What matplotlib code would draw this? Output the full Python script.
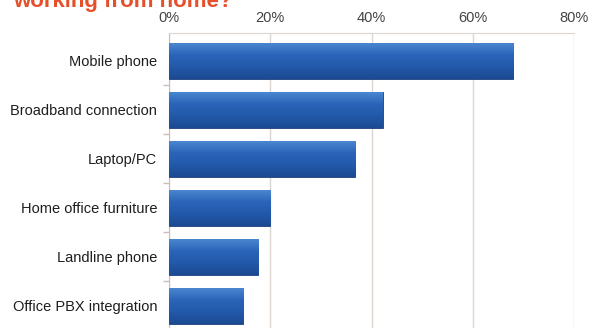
import matplotlib.pyplot as plt
import numpy as np
from matplotlib.colors import LinearSegmentedColormap

# survey answers, share of respondents (%)
items = ["Mobile phone", "Broadband connection", "Laptop/PC",
         "Home office furniture", "Landline phone", "Office PBX integration"]
shares = [68, 42.2, 36.8, 20, 17.6, 14.7]
ticks = [0, 20, 40, 60, 80]
tick_labels = ["0%", "20%", "40%", "60%", "80%"]

plt.rcParams['font.family'] = ['Liberation Sans', 'DejaVu Sans']

fig = plt.figure(figsize=(5.92, 3.28), dpi=100)
ax = fig.add_axes([169 / 592, 0.0, (574 - 169) / 592, 1 - 33 / 328])

pos = np.arange(len(items))
bars = ax.barh(pos, shares, height=0.73, color="#2a62b5",
               edgecolor="#1c3f7c", linewidth=0.6, zorder=3)

# vertical shading on each bar: light top, darker bottom
shade = LinearSegmentedColormap.from_list(
    "shade", ["#4a86d0", "#2a64b8", "#2359aa", "#1b4a92"])
grad = np.linspace(1, 0, 64).reshape(-1, 1)
for b in bars:
    x0, y0 = b.get_x(), b.get_y()
    w, h = b.get_width(), b.get_height()
    im = ax.imshow(grad, cmap=shade, aspect="auto", zorder=3.5,
                   extent=[x0, x0 + w, y0, y0 + h], origin="upper")
    im.set_clip_path(b)

ax.set_xlim(0, 80)
ax.set_ylim(5.45, -0.57)

ax.xaxis.tick_top()
ax.set_xticks(ticks)
ax.set_xticklabels(tick_labels, fontsize=10.5, color="#444444")
ax.tick_params(axis="x", length=0, pad=6)
ax.grid(axis="x", color="#ddd5cf", linewidth=1.0, zorder=0)

ax.set_yticks(pos)
ax.set_yticklabels(items, fontsize=10.5, color="#1e1e1e")
ax.tick_params(axis="y", which="major", length=0, pad=8.5)
ax.set_yticks(pos[:-1] + 0.5, minor=True)
ax.tick_params(axis="y", which="minor", length=4, color="#c9bfb8", width=1)

for side in ["right", "bottom"]:
    ax.spines[side].set_visible(False)
ax.spines["top"].set_color("#ddd5cf")
ax.spines["left"].set_color("#c9bfb8")

fig.text(13 / 592, 1 - 7 / 328, "working from home?", fontsize=16,
         fontweight="bold", color="#e5502b", va="baseline", ha="left")

fig.savefig("out.png", dpi=100)
